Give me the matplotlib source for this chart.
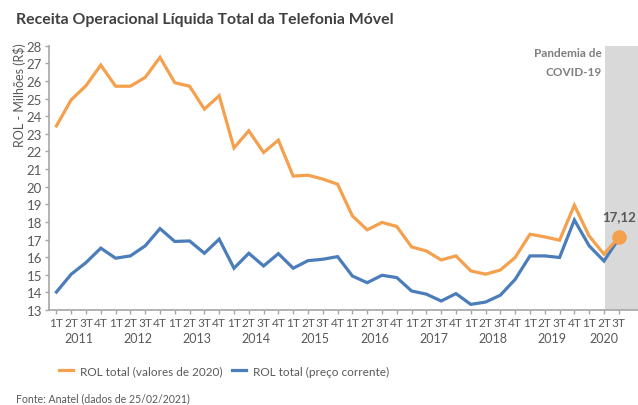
import matplotlib
matplotlib.use("Agg")
import matplotlib.pyplot as plt
from matplotlib.lines import Line2D

plt.rcParams['font.family'] = ['Lato', 'DejaVu Sans']

# Quarterly net operating revenue of mobile telephony (R$ billions)
years = ["2011", "2012", "2013", "2014", "2015", "2016", "2017", "2018", "2019", "2020"]
quarters = ["1T", "2T", "3T", "4T"]
n_quarters_last_year = 3

rol_real_2020 = [23.45, 24.93, 25.73, 26.90,
                 25.70, 25.70, 26.20, 27.34,
                 25.90, 25.70, 24.40, 25.16,
                 22.20, 23.17, 21.94, 22.64,
                 20.60, 20.65, 20.43, 20.14,
                 18.34, 17.55, 17.97, 17.74,
                 16.58, 16.35, 15.84, 16.07,
                 15.22, 15.03, 15.27, 15.98,
                 17.30, 17.15, 16.96, 18.95,
                 17.20, 16.17, 17.12]
rol_current = [14.02, 15.03, 15.69, 16.51,
               15.94, 16.07, 16.64, 17.62,
               16.89, 16.92, 16.22, 17.02,
               15.37, 16.22, 15.50, 16.20,
               15.37, 15.80, 15.88, 16.03,
               14.93, 14.55, 14.97, 14.84,
               14.08, 13.90, 13.51, 13.93,
               13.32, 13.45, 13.84, 14.74,
               16.07, 16.07, 15.98, 18.11,
               16.64, 15.78, 17.05]

pandemic_start = 37
last_label = "17,12"

ORANGE = "#F4A04C"
BLUE = "#4A7DBA"
AXIS_GRAY = "#A6A6A6"
TEXT_GRAY = "#595959"

W, H = 638, 406
fig = plt.figure(figsize=(W / 100, H / 100), dpi=100)

def fx(px):
    return px / W

def fy(py):
    return 1 - py / H

ax = fig.add_axes([fx(49), fy(311), fx(638) - fx(49), fy(46.7) - fy(311)])

n = len(rol_real_2020)
x = list(range(n))

ax.axvspan(pandemic_start + 0.05, n + 1.3, color="#D9D9D9", lw=0, zorder=0)
ax.plot(x, rol_real_2020, color=ORANGE, lw=2.3, solid_joinstyle="miter", zorder=3)
ax.plot(x, rol_current, color=BLUE, lw=2.3, solid_joinstyle="miter", zorder=2)
ax.plot([x[-1]], [rol_real_2020[-1]], "o", color=ORANGE, ms=9.5, zorder=4)
ax.annotate(last_label, (x[-1], rol_real_2020[-1]), xytext=(0, 11),
            textcoords="offset points", ha="center", va="bottom",
            fontsize=9.5, fontweight="bold", color=TEXT_GRAY)

ax.set_xlim(-0.5, n + 0.3)
ax.set_ylim(13, 28)
ax.set_yticks(range(13, 29))

labels = [q for y in years[:-1] for q in quarters] + quarters[:n_quarters_last_year]
ax.set_xticks(x)
ax.set_xticklabels(labels)

for s in ["top", "right"]:
    ax.spines[s].set_visible(False)
for s in ["left", "bottom"]:
    ax.spines[s].set_color(AXIS_GRAY)
    ax.spines[s].set_linewidth(1.2)
ax.tick_params(axis="both", colors=AXIS_GRAY, length=3, width=1)
ax.tick_params(axis="y", labelsize=9.5, labelcolor=TEXT_GRAY, pad=2)
ax.tick_params(axis="x", labelsize=8.6, labelcolor=TEXT_GRAY, pad=2)

# year labels centred under each group of quarters
for i, yr in enumerate(years):
    count = 4 if i < len(years) - 1 else n_quarters_last_year
    center = 4 * i + (count - 1) / 2
    ax.text(center, -0.105, yr, transform=ax.get_xaxis_transform(),
            ha="center", va="center", fontsize=9, color=TEXT_GRAY)

fig.text(fx(20), fy(95), "ROL - Milhões (R$)", rotation=90, ha="center", va="center",
         fontsize=9, color=TEXT_GRAY)

fig.text(fx(16), fy(20), "Receita Operacional Líquida Total da Telefonia Móvel",
         ha="left", va="center", fontsize=11.4, fontweight="bold", color="#404040")

fig.text(fx(602), fy(54), "Pandemia de", ha="right", va="center",
         fontsize=8.5, fontweight="bold", color="#7F7F7F")
fig.text(fx(602), fy(73), "COVID-19", ha="right", va="center",
         fontsize=8.5, fontweight="bold", color="#7F7F7F")

handles = [Line2D([], [], color=ORANGE, lw=2.3),
           Line2D([], [], color=BLUE, lw=2.3)]
fig.legend(handles, ["ROL total (valores de 2020)", "ROL total (preço corrente)"],
           loc="center left", bbox_to_anchor=(fx(48), fy(372)), ncol=2,
           frameon=False, fontsize=8.5, handlelength=1.2, handletextpad=0.6,
           columnspacing=0.8, labelcolor=TEXT_GRAY)

fig.text(fx(16), fy(399), "Fonte: Anatel (dados de 25/02/2021)", ha="left", va="center",
         fontsize=7.6, color=TEXT_GRAY)

fig.savefig("out.png", dpi=100)
